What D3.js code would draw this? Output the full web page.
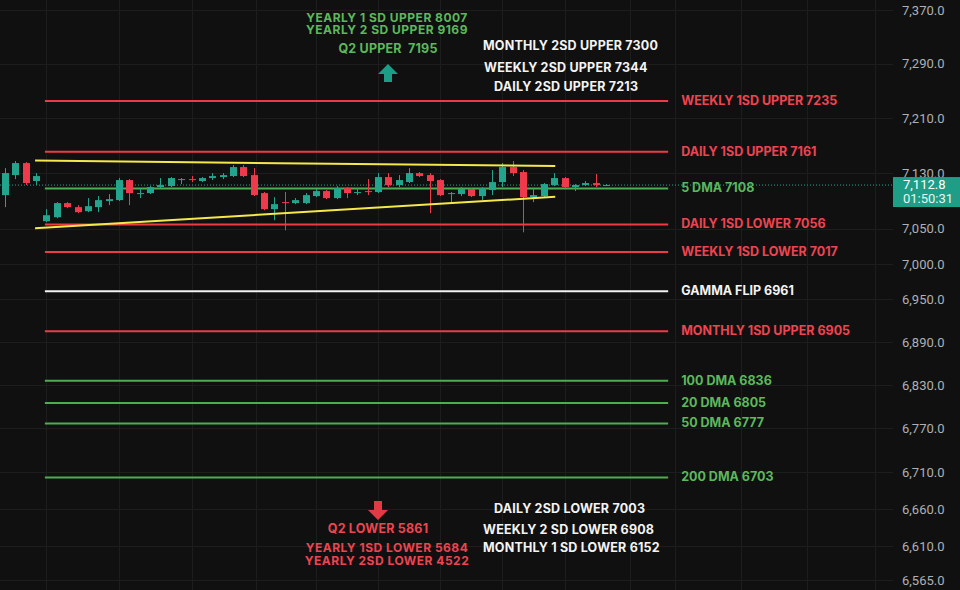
<!DOCTYPE html>
<html><head><meta charset="utf-8">
<script src="https://cdn.jsdelivr.net/npm/d3@7"></script>
<style>
html,body{margin:0;padding:0;background:#101010;}
svg{display:block;}
text{white-space:pre;}
</style></head>
<body>
<svg id="chart" width="960" height="590"></svg>
<script>
// ---------- DATA ----------
const opens  = [7098.3,7127.2,7144.6,7118.6,7060.8,7066.5,7086.8,7081.0,7075.2,7081.0,7089.7,7091.1,7120.0,7099.8,7101.2,7109.9,7111.3,7120.0,7121.4,7118.6,7122.9,7124.3,7125.8,7138.8,7127.2,7101.2,7078.1,7088.2,7086.8,7086.8,7096.9,7104.1,7094.0,7108.4,7101.2,7104.1,7102.7,7124.3,7112.8,7117.1,7130.1,7127.2,7120.0,7099.8,7099.8,7107.0,7096.9,7105.6,7117.1,7138.8,7131.6,7095.4,7096.9,7112.8,7122.9,7109.9,7112.8,7115.7,7112.0];
const highs  = [7137.3,7147.5,7146.0,7130.1,7078.1,7088.2,7088.2,7083.9,7094.0,7096.9,7099.8,7122.9,7121.4,7108.4,7111.3,7122.9,7124.3,7122.9,7125.8,7124.3,7130.1,7130.1,7141.7,7141.7,7137.3,7102.7,7095.4,7102.7,7094.0,7101.2,7107.0,7105.6,7111.3,7109.9,7108.4,7121.4,7130.1,7130.1,7127.2,7137.3,7131.6,7130.1,7121.4,7102.7,7109.9,7108.4,7109.9,7134.5,7144.6,7147.5,7134.5,7108.4,7115.7,7130.1,7124.3,7114.2,7118.6,7128.7,7114.2];
const lows   = [7081.0,7121.4,7112.8,7112.8,7059.3,7065.1,7079.5,7072.3,7073.8,7073.8,7083.9,7089.7,7083.9,7094.0,7099.8,7108.4,7109.9,7114.2,7117.1,7117.1,7120.0,7121.4,7124.3,7124.3,7096.9,7076.6,7062.2,7047.8,7085.3,7085.3,7095.4,7092.5,7092.5,7094.0,7098.3,7098.3,7101.2,7109.9,7109.9,7115.7,7124.3,7072.3,7096.9,7086.8,7096.9,7095.4,7091.1,7098.3,7109.9,7125.8,7044.9,7088.2,7095.4,7111.3,7108.4,7104.1,7111.3,7109.9,7111.3];
const closes = [7130.1,7144.6,7115.7,7125.8,7069.4,7086.8,7081.0,7073.8,7082.4,7091.1,7092.5,7120.0,7101.2,7101.2,7109.9,7112.8,7122.9,7121.4,7120.0,7122.9,7125.8,7127.2,7138.8,7125.8,7098.3,7078.1,7085.3,7086.8,7091.1,7098.3,7104.1,7094.0,7108.4,7101.2,7102.7,7102.7,7124.3,7112.8,7120.0,7130.1,7125.8,7118.6,7098.3,7101.2,7107.0,7096.9,7108.4,7117.1,7138.8,7130.1,7095.4,7098.3,7114.2,7122.9,7109.9,7112.8,7115.7,7112.8,7112.8];

const tickValues = [7370,7290,7210,7130,7050,7000,6950,6890,6830,6770,6710,6660,6610,6565];

const levelNames  = ["WEEKLY 1SD UPPER","DAILY 1SD UPPER","5 DMA","DAILY 1SD LOWER","WEEKLY 1SD LOWER","GAMMA FLIP","MONTHLY 1SD UPPER","100 DMA","20 DMA","50 DMA","200 DMA"];
const levelValues = [7235,7161,7108,7056,7017,6961,6905,6836,6805,6777,6703];
const levelKinds  = ["red","red","green","red","red","white","red","green","green","green","green"];

// trendlines: [candle index, price]
const trendUpper = [[2.9,7148.2],[53.1,7140.2]];
const trendLower = [[2.9,7050.6],[53.1,7095.9]];

const lastPrice = 7112.8;
const lastTimer = "01:50:31";

const topGreenNotes  = ["YEARLY 1 SD UPPER 8007","YEARLY 2 SD UPPER 9169","Q2 UPPER  7195"];
const topWhiteNotes  = ["MONTHLY 2SD UPPER 7300","WEEKLY 2SD UPPER 7344","DAILY 2SD UPPER 7213"];
const botRedNotes    = ["Q2 LOWER 5861","YEARLY 1SD LOWER 5684","YEARLY 2SD LOWER 4522"];
const botWhiteNotes  = ["DAILY 2SD LOWER 7003","WEEKLY 2 SD LOWER 6908","MONTHLY 1 SD LOWER 6152"];

const vGridIdx = [4, 11, 18, 24.2, 30, 36, 42, 48, 54, 60.3, 64.7, 71, 77.4, 84];

// ---------- STYLE ----------
const C = {
  bg:"#101010", grid:"#1d1d1d", axis:"#aeb0b5",
  up:"#22a58c", down:"#ef3a4b",
  red:"#ec3b47", green:"#4cae50", white:"#f2f2f2", yellow:"#f5e84a",
  redText:"#ee4450", greenText:"#5cb85c", whiteText:"#f4f4f4"
};
const FONT = "Inter, 'Noto Sans', sans-serif";

const svg = d3.select("#chart");
const W = 960, H = 590;
svg.append("rect").attr("width",W).attr("height",H).attr("fill",C.bg);

const x = d3.scaleLinear().domain([0, closes.length-1]).range([5, 606]);
const y = d3.scaleLog().domain([6565, 7370]).range([580, 10]);
const axisX = 893;

// grid
const g = svg.append("g");
g.selectAll("line.h").data(tickValues).join("line")
  .attr("x1",0).attr("x2",axisX).attr("y1",d=>Math.round(y(d))+0.5).attr("y2",d=>Math.round(y(d))+0.5)
  .attr("stroke",C.grid).attr("stroke-width",1);
g.selectAll("line.v").data(vGridIdx).join("line")
  .attr("x1",d=>Math.round(x(d))+0.5).attr("x2",d=>Math.round(x(d))+0.5).attr("y1",0).attr("y2",H)
  .attr("stroke",C.grid).attr("stroke-width",1);

// right axis
const yAxis = d3.axisRight(y).tickValues(tickValues).tickSize(0).tickPadding(9)
  .tickFormat(d3.format(",.1f"));
const ax = svg.append("g").attr("transform",`translate(${axisX},0)`).call(yAxis);
ax.select(".domain").remove();
ax.selectAll("text").attr("fill",C.axis).style("font-family","Roboto, sans-serif").style("font-size","13px");

// level lines
const lvlEnd = 64;
const lvlStart = 3.85;
const colorOf = k => k==="red"?C.red:(k==="green"?C.green:C.white);
const textColorOf = k => k==="red"?C.redText:(k==="green"?C.greenText:C.whiteText);
const lv = svg.append("g");
levelValues.forEach((v,i)=>{
  lv.append("line").attr("x1",x(lvlStart)).attr("x2",x(lvlEnd))
    .attr("y1",y(v)).attr("y2",y(v)).attr("stroke",colorOf(levelKinds[i])).attr("stroke-width",2);
  lv.append("text").attr("x",x(lvlEnd)+13).attr("y",y(v)+0.5)
    .attr("dominant-baseline","middle")
    .attr("fill",textColorOf(levelKinds[i]))
    .style("font-family",FONT).style("font-weight","700").style("font-size","12.5px")
    .text(levelNames[i]+" "+levelValues[i]);
});

// current price dotted line
svg.append("line").attr("x1",0).attr("x2",axisX).attr("y1",y(lastPrice)).attr("y2",y(lastPrice))
  .attr("stroke",C.up).attr("stroke-width",1).attr("stroke-dasharray","1,2");

// candles
const idx = d3.range(closes.length);
const cg = svg.append("g");
const bw = 7;
idx.forEach(i=>{
  const up = closes[i] >= opens[i];
  const col = up?C.up:C.down;
  const cx = Math.round(x(i))+0.5;
  cg.append("line").attr("x1",cx).attr("x2",cx).attr("y1",y(highs[i])).attr("y2",y(lows[i]))
    .attr("stroke",col).attr("stroke-width",1);
  const top = y(Math.max(opens[i],closes[i])), bot = y(Math.min(opens[i],closes[i]));
  cg.append("rect").attr("x",cx-bw/2).attr("width",bw).attr("y",top).attr("height",Math.max(1,bot-top))
    .attr("fill",col);
});

// trendlines
const tl = d3.line().x(d=>x(d[0])).y(d=>y(d[1]));
[trendUpper,trendLower].forEach(t=>{
  svg.append("path").attr("d",tl(t)).attr("stroke",C.yellow).attr("stroke-width",2).attr("fill","none");
});

// price box
const py = y(lastPrice);
svg.append("rect").attr("x",axisX).attr("y",py-8).attr("width",W-axisX).attr("height",30).attr("fill","#1e9e86");
svg.append("text").attr("x",903).attr("y",py+1).attr("dominant-baseline","middle")
  .attr("fill","#ffffff").style("font-family","Roboto, sans-serif").style("font-size","13px").text(d3.format(",.1f")(lastPrice));
svg.append("text").attr("x",903).attr("y",py+15).attr("dominant-baseline","middle")
  .attr("fill","#e8f5f1").style("font-family","Roboto, sans-serif").style("font-size","13px").text(lastTimer);

// annotation text helper
function note(txt, xx, yy, col, anchor, fs){
  svg.append("text").attr("x",xx).attr("y",yy).attr("dominant-baseline","middle")
    .attr("text-anchor",anchor||"middle").attr("fill",col)
    .style("font-family",FONT).style("font-weight","700").style("font-size",(fs||12.5)+"px")
    .style("letter-spacing",fs?"0.5px":"0.2px").text(txt);
}
// top
note(topGreenNotes[0], 387, 18.5, C.greenText, "middle", 12);
note(topGreenNotes[1], 387, 31, C.greenText, "middle", 12);
note(topGreenNotes[2], 388, 50, C.greenText);
note(topWhiteNotes[0], 483, 47, C.whiteText, "start");
note(topWhiteNotes[1], 484, 69, C.whiteText, "start");
note(topWhiteNotes[2], 494, 88, C.whiteText, "start");
// bottom
note(botRedNotes[0], 378, 530, C.redText);
note(botRedNotes[1], 387, 549, C.redText, "middle", 12);
note(botRedNotes[2], 387, 561.5, C.redText, "middle", 12);
note(botWhiteNotes[0], 494, 510, C.whiteText, "start");
note(botWhiteNotes[1], 483, 531, C.whiteText, "start");
note(botWhiteNotes[2], 483, 549, C.whiteText, "start");

// arrows
const upArrow = d3.path();
upArrow.moveTo(388,64); upArrow.lineTo(398,74); upArrow.lineTo(392,74); upArrow.lineTo(392,82);
upArrow.lineTo(384,82); upArrow.lineTo(384,74); upArrow.lineTo(378,74); upArrow.closePath();
svg.append("path").attr("d",upArrow.toString()).attr("fill","#1a9e86");
const dnArrow = d3.path();
dnArrow.moveTo(374,501); dnArrow.lineTo(382,501); dnArrow.lineTo(382,510); dnArrow.lineTo(388,510);
dnArrow.lineTo(378,520); dnArrow.lineTo(368,510); dnArrow.lineTo(374,510); dnArrow.closePath();
svg.append("path").attr("d",dnArrow.toString()).attr("fill","#e23a45");
</script>
</body></html>
